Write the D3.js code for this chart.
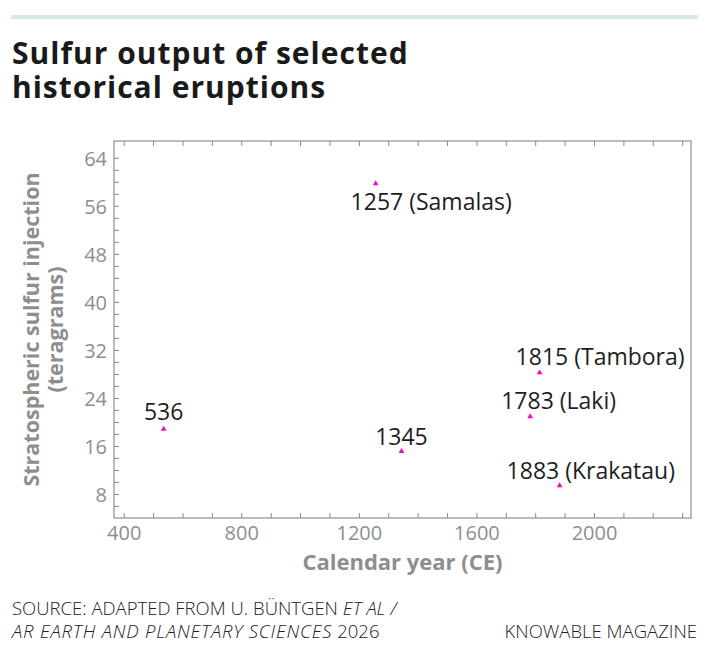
<!DOCTYPE html>
<html>
<head>
<meta charset="utf-8">
<script src="https://cdn.jsdelivr.net/npm/d3@7"></script>
<style>
  body { margin: 0; background: #fff; }
  svg { display: block; font-family: "Open Sans", Lato, sans-serif; }
</style>
</head>
<body>
<div id="chart"></div>
<script>
// eruption data
const years = [536, 1257, 1345, 1783, 1815, 1883];
const sulfur = [18.8, 59.7, 15.1, 20.9, 28.2, 9.4];
const names = ["536", "1257 (Samalas)", "1345", "1783 (Laki)", "1815 (Tambora)", "1883 (Krakatau)"];
const xTicks = [400, 800, 1200, 1600, 2000];
const yTicks = [8, 16, 24, 32, 40, 48, 56, 64];

const W = 710, H = 650;
const frame = { left: 114, right: 691, top: 141, bottom: 518 };
const grey = "#8e8e8e";

const svg = d3.select("#chart").append("svg")
  .attr("width", W)
  .attr("height", H);

// top rule
svg.append("rect")
  .attr("x", 11).attr("y", 15)
  .attr("width", 687).attr("height", 4)
  .attr("fill", "#d4e8e8");

// title, two lines
svg.append("text")
  .attr("x", 12).attr("y", 64)
  .style("font-size", "30px")
  .style("font-weight", 700)
  .style("letter-spacing", "1px")
  .attr("fill", "#1a1a1a")
  .text("Sulfur output of selected");
svg.append("text")
  .attr("x", 12).attr("y", 98)
  .style("font-size", "30px")
  .style("font-weight", 700)
  .style("letter-spacing", "1px")
  .attr("fill", "#1a1a1a")
  .text("historical eruptions");

let x_scale = d3.scaleLinear()
  .domain([367, 2330])
  .range([frame.left, frame.right]);
let y_scale = d3.scaleLinear()
  .domain([4, 66.8])
  .range([frame.bottom, frame.top]);

// frame
svg.append("rect")
  .attr("x", frame.left).attr("y", frame.top)
  .attr("width", frame.right - frame.left)
  .attr("height", frame.bottom - frame.top)
  .attr("fill", "none")
  .attr("stroke", "#999")
  .attr("stroke-width", 1.3);

const style_axis = (g) => {
  g.select(".domain").remove();
  g.selectAll(".tick line").attr("stroke", "#888").attr("stroke-width", 1);
  g.selectAll(".tick text")
    .attr("fill", grey)
    .style("font-size", "20px")
    .style("font-family", "'Open Sans', sans-serif");
};

// bottom axis
svg.append("g")
  .attr("transform", "translate(0," + frame.bottom + ")")
  .call(d3.axisBottom(x_scale)
    .tickValues(d3.range(400, 2301, 100))
    .tickSize(-5)
    .tickFormat((d) => xTicks.includes(d) ? d : ""))
  .call(style_axis)
  .call((g) => g.selectAll(".tick text").attr("dy", null).attr("y", 22));

// top axis (ticks only)
svg.append("g")
  .attr("transform", "translate(0," + frame.top + ")")
  .call(d3.axisTop(x_scale)
    .tickValues(d3.range(400, 2301, 100))
    .tickSize(-5)
    .tickFormat(""))
  .call(style_axis);

// left axis
svg.append("g")
  .attr("transform", "translate(" + frame.left + ",0)")
  .call(d3.axisLeft(y_scale)
    .tickValues(d3.range(6, 65, 2))
    .tickSize(-5)
    .tickPadding(7)
    .tickFormat((d) => yTicks.includes(d) ? d : ""))
  .call(style_axis)
  .call((g) => g.selectAll(".tick text").attr("dy", "0.36em"));

// axis titles
svg.append("text")
  .attr("x", (frame.left + frame.right) / 2)
  .attr("y", 570)
  .attr("text-anchor", "middle")
  .attr("fill", grey)
  .style("font-size", "22px")
  .style("font-weight", 700)
  .text("Calendar year (CE)");

const ytitle = svg.append("text")
  .attr("transform", "translate(0," + ((frame.top + frame.bottom) / 2) + ") rotate(-90)")
  .attr("text-anchor", "middle")
  .attr("fill", grey)
  .style("font-size", "21.5px")
  .style("font-weight", 700);
ytitle.append("tspan").attr("x", 0).attr("y", 39).text("Stratospheric sulfur injection");
ytitle.append("tspan").attr("x", 0).attr("y", 63).text("(teragrams)");

// label placement relative to each marker
const label_pos = [
  { dx: 0, dy: -9, anchor: "middle" },
  { dx: -25, dy: 26, anchor: "start" },
  { dx: 0, dy: -6, anchor: "middle" },
  { dx: -29, dy: -8, anchor: "start" },
  { dx: -24, dy: -8, anchor: "start" },
  { dx: -53, dy: -7, anchor: "start" }
];

const points = years.map((yr, i) => ({ year: yr, value: sulfur[i], name: names[i], pos: label_pos[i] }));

svg.append("g").selectAll("path")
  .data(points)
  .join("path")
  .attr("transform", (d) => "translate(" + x_scale(d.year) + "," + y_scale(d.value) + ")")
  .attr("d", d3.symbol(d3.symbolTriangle, 14))
  .attr("fill", "#ff00c8");

svg.append("g").selectAll("text")
  .data(points)
  .join("text")
  .attr("x", (d) => x_scale(d.year) + d.pos.dx)
  .attr("y", (d) => y_scale(d.value) + d.pos.dy)
  .attr("text-anchor", (d) => d.pos.anchor)
  .attr("fill", "#1e1e1e")
  .style("font-size", "23px")
  .text((d) => d.name);

// footer
const source = svg.append("text")
  .attr("fill", "#222")
  .style("font-size", "18.5px")
  .style("font-weight", 300);
const l1 = source.append("tspan").attr("x", 12).attr("y", 615);
l1.append("tspan").text("SOURCE: ADAPTED FROM U. BÜNTGEN ");
l1.append("tspan").style("font-style", "italic").text("ET AL /");
const l2 = source.append("tspan").attr("x", 12).attr("y", 638);
l2.append("tspan").style("font-style", "italic").style("letter-spacing", "0.8px").text("AR EARTH AND PLANETARY SCIENCES");
l2.append("tspan").text(" 2026");

svg.append("text")
  .attr("x", 697).attr("y", 638)
  .attr("text-anchor", "end")
  .attr("fill", "#222")
  .style("font-size", "18.5px")
  .style("font-weight", 300)
  .text("KNOWABLE MAGAZINE");
</script>
</body>
</html>
